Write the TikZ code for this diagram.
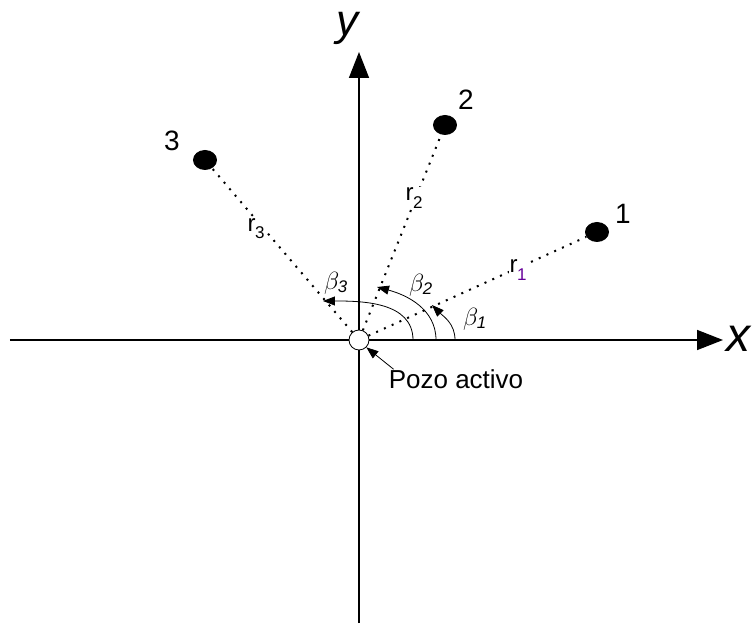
\documentclass[tikz,border=0pt]{standalone}
\usepackage{fontspec}
\setmainfont{Liberation Sans}
\usetikzlibrary{arrows.meta,positioning,shapes.geometric}

\newcommand{\rsub}[1]{\kern-0.5pt\raisebox{-0.3em}{\fontsize{17}{18}\selectfont #1}}

\begin{document}
\begin{tikzpicture}[
    x=1pt, y=1pt,
    axis/.style={
        line width=1.6pt,
        -{Triangle[length=26pt,width=20pt]}
    },
    ray/.style={
        line width=2pt,
        dash pattern=on 2pt off 6.5pt
    },
    obswell/.style={
        ellipse,
        fill=black,
        minimum width=24pt,
        minimum height=20pt,
        inner sep=0pt
    },
    anglearc/.style={
        line width=0.8pt,
        -{Triangle[length=12pt,width=9pt]}
    },
    axislabel/.style={font=\fontsize{48}{50}\selectfont\itshape},
    numlabel/.style={font=\fontsize{28}{30}\selectfont},
    rlabel/.style={font=\fontsize{24}{26}\selectfont, fill=white, inner sep=1pt},
    betalabel/.style={font=\fontsize{24}{26}\selectfont}
]

\useasboundingbox (-359,-286) rectangle (394,340);

% Axes
\coordinate (xmin) at (-349,0);
\coordinate (xmax) at (364,0);
\coordinate (ymin) at (0,-283);
\coordinate (ymax) at (0,288);
\draw[axis] (xmin) -- (xmax);
\draw[axis] (ymin) -- (ymax);
\node[axislabel] (xlab) at (379,1)   {x};
\node[axislabel, font=\fontsize{44}{46}\selectfont\itshape] (ylab) at (-11,312) {y};

% Active well and observation wells
\node[circle, draw, fill=white, line width=0.8pt, minimum size=20pt, inner sep=0pt] (active) at (0,0) {};
\node[obswell] (w1) at (238,108)  {};
\node[obswell] (w2) at (86,215)   {};
\node[obswell] (w3) at (-154,180) {};
\node[numlabel] (n1) at (264,126)  {1};
\node[numlabel] (n2) at (107,240)  {2};
\node[numlabel] (n3) at (-187,199) {3};

% Distances
\draw[ray] (active) -- (w1);
\draw[ray] (active) -- (w2);
\draw[ray] (active) -- (w3);
\node[rlabel] (r1) at (159,70)   {r\rsub{\color{violet!80!blue}1}};
\node[rlabel] (r2) at (55,142)   {r\rsub{2}};
\node[rlabel] (r3) at (-103,111) {r\rsub{3}};

% Angles
\draw[anglearc] (96,0) to[out=90, in=-45] (73,35);
\draw[anglearc] (77,0) to[out=90, in=-15] (18,53);
\draw[anglearc] (54,0) to[out=90, in=0]   (-36,39);
\node[betalabel] (b1) at (116,21)  {$\beta_{\mathit{1}}$};
\node[betalabel] (b2) at (62,55)   {$\beta_{\mathit{2}}$};
\node[betalabel] (b3) at (-23,57)  {$\beta_{\mathit{3}}$};

% Label of the active well
\node[font=\fontsize{26}{28}\selectfont, inner sep=0pt] (pozo) at (97,-39) {Pozo activo};
\draw[anglearc] ([xshift=5pt]pozo.north west) -- (active.south east);

\end{tikzpicture}
\end{document}
